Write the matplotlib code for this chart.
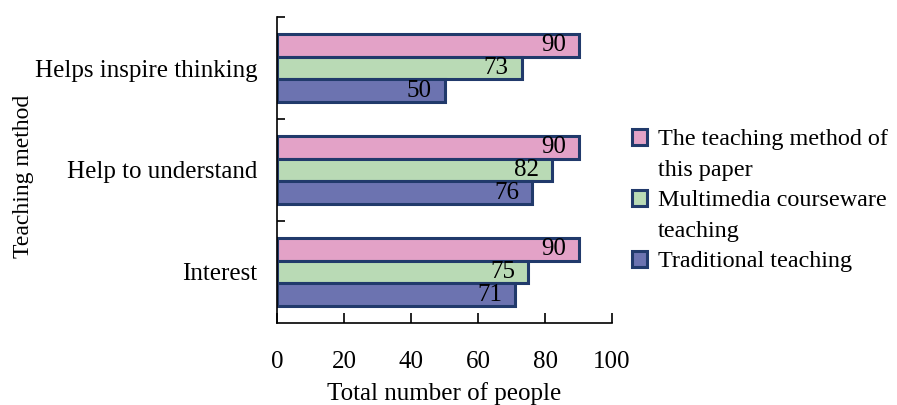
import matplotlib.pyplot as plt
from matplotlib.patches import Patch
import numpy as np

categories = ["Interest", "Help to understand", "Helps inspire thinking"]
series_names = ["The teaching method of\nthis paper", "Multimedia courseware\nteaching", "Traditional teaching"]
paper_vals = [90, 90, 90]
multimedia_vals = [75, 82, 73]
traditional_vals = [71, 76, 50]

colors = ["#E3A2C7", "#B9DAB5", "#6C73B0"]
edge = "#213A6B"

plt.rcParams['font.family'] = ['Liberation Serif', 'DejaVu Serif']
plt.rcParams['font.size'] = 18

fig = plt.figure(figsize=(8.97, 4.05), dpi=100)
ax = fig.add_axes([0.3088, 0.2025, 0.3735, 0.7555])

y = np.arange(len(categories))
h = 0.225
offsets = [h, 0, -h]
for vals, off, c in zip([paper_vals, multimedia_vals, traditional_vals], offsets, colors):
    bars = ax.barh(y + off, vals, height=h, color=c, edgecolor=edge, linewidth=2.2)
    for b, v in zip(bars, vals):
        ax.text(v - 3.8, b.get_y() + h / 2, str(v), ha='right', va='center', fontsize=18)

ax.set_xlim(0, 100)
ax.set_ylim(-0.5, 2.5)
ax.set_xticks([0, 20, 40, 60, 80, 100])
ax.set_yticks(y)
ax.set_yticklabels(categories)
ax.set_yticks([0.5, 1.5, 2.5], minor=True)
ax.tick_params(axis='y', which='major', length=0, pad=14)
ax.tick_params(axis='y', which='minor', direction='in', length=6, width=1.2)
ax.tick_params(axis='x', direction='in', length=7, width=1.2, pad=20)
for s in ['top', 'right']:
    ax.spines[s].set_visible(False)
for s in ['left', 'bottom']:
    ax.spines[s].set_linewidth(1.2)

ax.set_xlabel("Total number of people", labelpad=7)
ax.set_ylabel("Teaching method", fontsize=17)
ax.yaxis.set_label_coords(-0.725, 0.48)

# legend: handle only on the first line of each wrapped name
handles, labels = [], []
for name, c in zip(series_names, colors):
    lines = name.split("\n")
    handles.append(Patch(facecolor=c, edgecolor=edge, linewidth=2.2))
    labels.append(lines[0])
    for extra in lines[1:]:
        handles.append(Patch(facecolor='none', edgecolor='none'))
        labels.append(extra)
ax.legend(handles, labels, loc='center left', bbox_to_anchor=(1.01, 0.40), frameon=False,
          fontsize=17.4, handlelength=0.62, handleheight=0.62, handletextpad=0.45,
          labelspacing=0.38, borderaxespad=0.3)

fig.savefig("out.png", dpi=100)
